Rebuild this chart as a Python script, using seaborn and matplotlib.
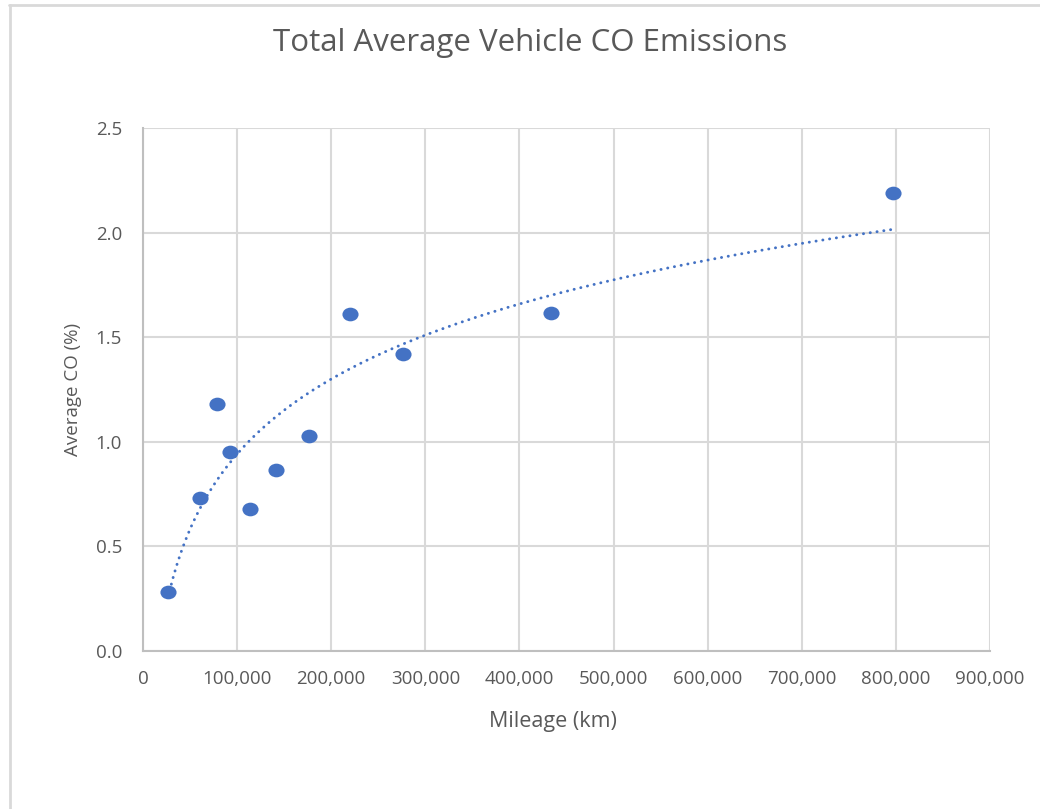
import numpy as np
import pandas as pd
import matplotlib
matplotlib.use("Agg")
import matplotlib.pyplot as plt
import seaborn as sns
from matplotlib.path import Path
from matplotlib.ticker import FuncFormatter, MultipleLocator
from matplotlib.lines import Line2D

# ---- data ----
mileage_km = [26600, 60600, 78600, 92500, 113700, 141300, 176400, 220000, 276300, 433600, 797000]
avg_co_pct = [0.28, 0.73, 1.18, 0.95, 0.68, 0.865, 1.03, 1.61, 1.42, 1.615, 2.19]

title = "Total Average Vehicle CO Emissions"
x_label = "Mileage (km)"
y_label = "Average CO (%)"

df = pd.DataFrame({"mileage": mileage_km, "co": avg_co_pct})

sns.set_theme(style="white")
plt.rcParams["font.family"] = ["Open Sans", "DejaVu Sans"]

TEXT = "#595959"
GRID = "#d9d9d9"
BLUE = "#4472c4"

fig = plt.figure(figsize=(10.4, 8.09), dpi=100)
ax = fig.add_axes([143/1040, 1-651/809, (990-143)/1040, (651-128)/809])

# slightly wide ellipse marker like the reference
circ = Path.unit_circle()
ell = Path(circ.vertices * np.array([1.18, 1.0]), circ.codes)

sns.scatterplot(data=df, x="mileage", y="co", ax=ax, marker=ell, s=135,
                color=BLUE, edgecolor=BLUE, linewidth=0, zorder=3)

# logarithmic trendline (least squares on ln x) over the data range
a, b = np.polyfit(np.log(df["mileage"]), df["co"], 1)
xs = np.linspace(df["mileage"].min(), df["mileage"].max(), 400)
ys = a * np.log(xs) + b
trend = pd.DataFrame({"x": xs, "y": ys})
sns.lineplot(data=trend, x="x", y="y", ax=ax, color=BLUE, linewidth=2.1,
             zorder=2, sort=False)
ln = ax.lines[-1]
ln.set_linestyle((0, (0.05, 2.3)))
ln.set_dash_capstyle("round")

ax.set_xlim(0, 900000)
ax.set_ylim(0, 2.5)
ax.xaxis.set_major_locator(MultipleLocator(100000))
ax.yaxis.set_major_locator(MultipleLocator(0.5))
ax.xaxis.set_major_formatter(FuncFormatter(lambda v, p: f"{int(round(v)):,}"))
ax.yaxis.set_major_formatter(FuncFormatter(lambda v, p: f"{v:.1f}"))

ax.grid(True, color=GRID, linewidth=1.5)
ax.set_axisbelow(True)
for side in ["top", "right"]:
    ax.spines[side].set_visible(False)
for side in ["left", "bottom"]:
    ax.spines[side].set_color("#bfbfbf")
    ax.spines[side].set_linewidth(1.5)

ax.tick_params(axis="both", length=0, labelsize=13.5, colors=TEXT)
ax.tick_params(axis="x", pad=14)
ax.tick_params(axis="y", pad=15)

ax.set_xlabel(x_label, fontsize=15.5, color=TEXT, labelpad=18)
ax.xaxis.set_label_coords((553-143)/(990-143), -(722-651)/(651-128))
ax.xaxis.label.set_va("center")
ax.set_ylabel(y_label, fontsize=13.5, color=TEXT, labelpad=10)

fig.text(530/1040, 1-43/809, title, ha="center", va="center", fontsize=22.5, color=TEXT)

# chart frame (top and left edges as in the reference)
fig.add_artist(Line2D([9/1040, 1], [1-4.5/809, 1-4.5/809], transform=fig.transFigure,
                      color=GRID, linewidth=2))
fig.add_artist(Line2D([9.5/1040, 9.5/1040], [0, 1-4.5/809], transform=fig.transFigure,
                      color=GRID, linewidth=2))

fig.savefig("out.png", dpi=100, facecolor="white")
